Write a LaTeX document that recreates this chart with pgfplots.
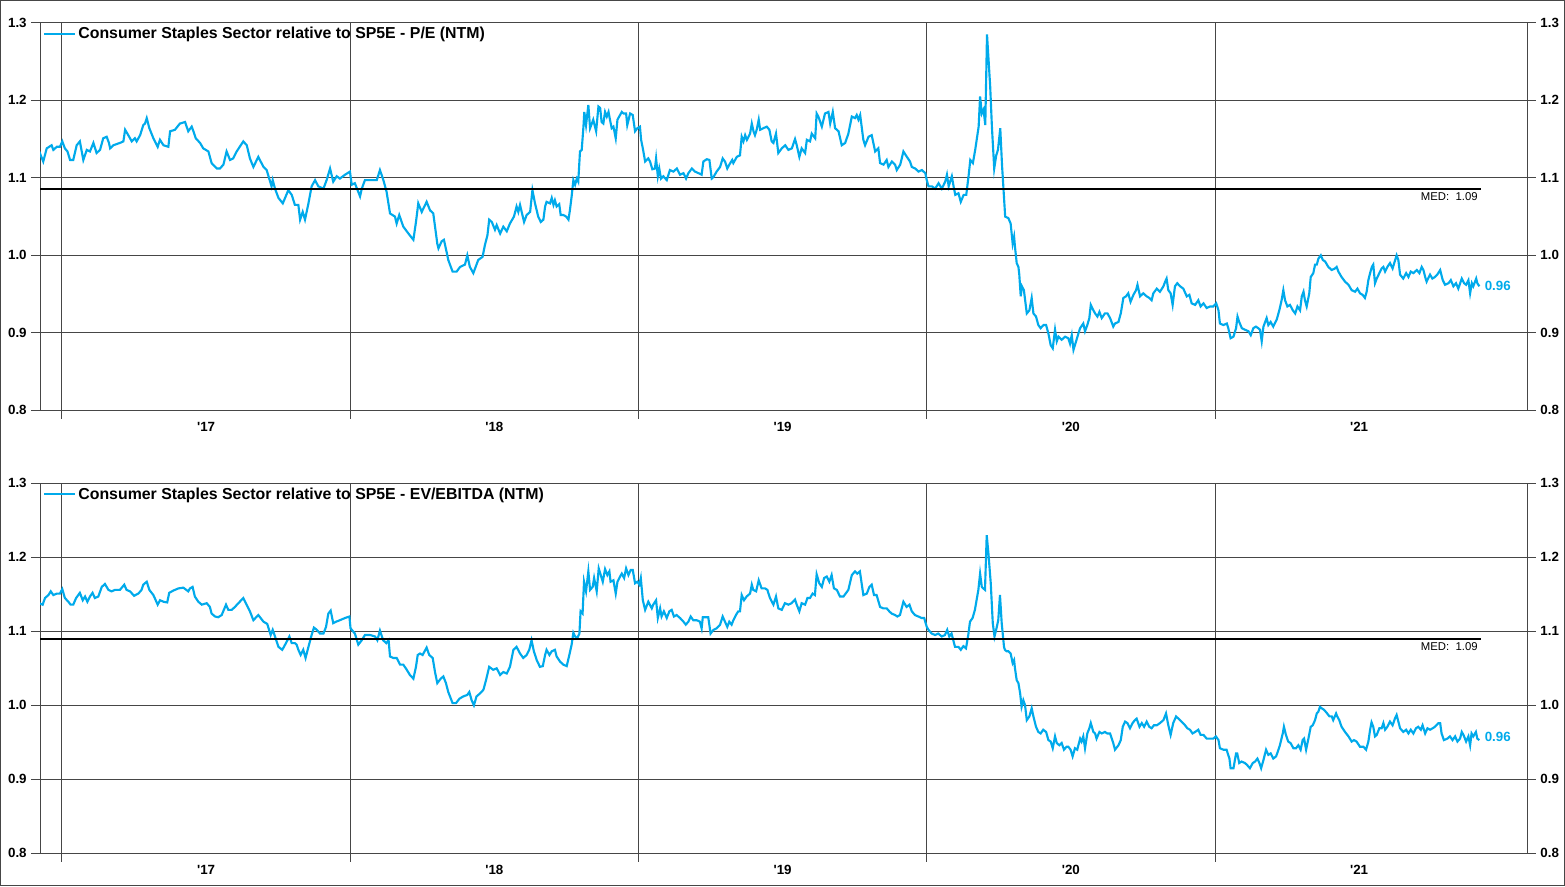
\documentclass[border=0pt]{standalone}
\usepackage{pgfplots}
\pgfplotsset{compat=1.18}
\usepackage{fontspec}
\setmainfont{Liberation Sans}
\definecolor{ser}{RGB}{0,170,235}
\definecolor{gridc}{RGB}{70,70,70}
\pgfplotsset{
  basepanel/.style={
    scale only axis, width=1115.25pt,
    xmin=2016.9237, xmax=2022.0824, ymin=0.8, ymax=1.3,
    axis line style={gridc, line width=0.75pt},
    tick style={gridc, line width=0.75pt},
    tick align=outside, major tick length=6.5pt,
    ytick={0.8,0.9,1.0,1.1,1.2,1.3},
    yticklabel style={/pgf/number format/fixed, /pgf/number format/fixed zerofill,
      /pgf/number format/precision=1, /pgf/number format/assume math mode=true},
    ticklabel style={font=\fontsize{10}{12}\selectfont\bfseries, text=black},
  },
  mainpanel/.style={basepanel,
    xtick={2017,2018,2019,2020,2021}, xticklabels={},
    extra x ticks={2017.5,2018.5,2019.5,2020.5,2021.5},
    extra x tick labels={\textquotesingle17,\textquotesingle18,\textquotesingle19,\textquotesingle20,\textquotesingle21},
    extra x tick style={grid=none, major tick length=0pt, tick style={draw=none}},
    xticklabel style={yshift=-5.5pt},
    xtick pos=left, ytick pos=left,
    grid=major, major grid style={gridc, line width=0.75pt},
    legend style={at={(0,1)}, anchor=north west, draw=none, fill=none,
      font=\fontsize{11.9}{13}\selectfont\bfseries, legend cell align=left,
      xshift=-1pt, yshift=1pt},
    legend image code/.code={\path (0pt,0pt) -- (23pt,0pt);\draw[ser, line width=1.6pt] (0pt,0pt) -- (18pt,0pt);},
  },
  rightpanel/.style={basepanel, hide x axis, axis y line*=right, yticklabel pos=right},
}
\begin{document}
\begin{tikzpicture}
\useasboundingbox (0,0) rectangle (1173.75pt,-664.5pt);
\draw[gridc, line width=1.1pt] (0.55pt,-0.55pt) rectangle (1173.2pt,-663.95pt);

% ---------------- top panel ----------------
\begin{axis}[mainpanel, height=290.625pt, at={(30pt,-17.1pt)}, anchor=north west]
\addplot[ser, line width=1.6pt] coordinates {
(2016.921,1.134) (2016.935,1.121) (2016.947,1.138) (2016.964,1.142) (2016.970,1.136) (2016.982,1.140) (2016.993,1.140) (2017.001,1.147) (2017.010,1.138) (2017.019,1.134) (2017.028,1.123) (2017.039,1.123) (2017.051,1.142) (2017.062,1.147) (2017.074,1.123) (2017.086,1.136) (2017.097,1.134) (2017.109,1.145) (2017.120,1.132) (2017.132,1.136) (2017.143,1.151) (2017.155,1.153) (2017.163,1.145) (2017.167,1.138) (2017.178,1.142) (2017.201,1.145) (2017.213,1.147) (2017.219,1.162) (2017.230,1.155) (2017.242,1.147) (2017.253,1.151) (2017.259,1.147) (2017.271,1.155) (2017.282,1.168) (2017.288,1.170) (2017.294,1.177) (2017.303,1.164) (2017.317,1.151) (2017.332,1.140) (2017.340,1.149) (2017.352,1.142) (2017.369,1.140) (2017.375,1.160) (2017.392,1.162) (2017.409,1.170) (2017.427,1.172) (2017.438,1.160) (2017.450,1.166) (2017.456,1.160) (2017.464,1.151) (2017.479,1.145) (2017.490,1.138) (2017.508,1.134) (2017.519,1.119) (2017.537,1.112) (2017.548,1.112) (2017.560,1.117) (2017.571,1.134) (2017.583,1.123) (2017.594,1.125) (2017.606,1.134) (2017.629,1.147) (2017.641,1.142) (2017.652,1.125) (2017.664,1.114) (2017.681,1.127) (2017.699,1.114) (2017.710,1.110) (2017.727,1.089) (2017.731,1.097) (2017.739,1.086) (2017.751,1.074) (2017.766,1.067) (2017.785,1.084) (2017.797,1.078) (2017.808,1.065) (2017.820,1.065) (2017.826,1.046) (2017.835,1.056) (2017.843,1.046) (2017.855,1.067) (2017.866,1.089) (2017.878,1.097) (2017.889,1.089) (2017.907,1.086) (2017.918,1.097) (2017.930,1.112) (2017.941,1.095) (2017.953,1.102) (2017.964,1.099) (2017.982,1.104) (2017.999,1.108) (2018.005,1.091) (2018.016,1.093) (2018.034,1.076) (2018.040,1.086) (2018.051,1.097) (2018.069,1.097) (2018.092,1.097) (2018.103,1.110) (2018.115,1.097) (2018.126,1.082) (2018.138,1.054) (2018.155,1.050) (2018.161,1.041) (2018.170,1.052) (2018.184,1.037) (2018.202,1.028) (2018.219,1.020) (2018.228,1.043) (2018.236,1.067) (2018.248,1.056) (2018.265,1.069) (2018.277,1.058) (2018.288,1.054) (2018.302,1.015) (2018.306,1.009) (2018.317,1.018) (2018.325,1.020) (2018.335,1.003) (2018.340,0.994) (2018.355,0.979) (2018.369,0.979) (2018.381,0.985) (2018.398,0.988) (2018.406,1.000) (2018.415,0.985) (2018.427,0.977) (2018.444,0.994) (2018.459,0.998) (2018.467,1.013) (2018.476,1.026) (2018.482,1.046) (2018.491,1.043) (2018.502,1.033) (2018.508,1.039) (2018.520,1.028) (2018.531,1.037) (2018.543,1.031) (2018.554,1.041) (2018.568,1.050) (2018.577,1.063) (2018.583,1.056)
(2018.589,1.065) (2018.603,1.043) (2018.612,1.052) (2018.624,1.056) (2018.632,1.084) (2018.641,1.067) (2018.652,1.050) (2018.661,1.043) (2018.670,1.046) (2018.676,1.063) (2018.681,1.069) (2018.693,1.067) (2018.699,1.074) (2018.705,1.065) (2018.710,1.071) (2018.716,1.063) (2018.725,1.066) (2018.730,1.052) (2018.739,1.052) (2018.749,1.050) (2018.757,1.046) (2018.762,1.058) (2018.768,1.076) (2018.774,1.097) (2018.780,1.091) (2018.786,1.099) (2018.791,1.095) (2018.797,1.134) (2018.803,1.136) (2018.809,1.166) (2018.812,1.185) (2018.818,1.168) (2018.826,1.194) (2018.832,1.164) (2018.838,1.170) (2018.843,1.175) (2018.853,1.160) (2018.861,1.192) (2018.867,1.190) (2018.872,1.172) (2018.878,1.170) (2018.884,1.185) (2018.890,1.179) (2018.896,1.185) (2018.901,1.175) (2018.907,1.164) (2018.913,1.166) (2018.921,1.151) (2018.927,1.175) (2018.936,1.181) (2018.942,1.185) (2018.948,1.183) (2018.957,1.183) (2018.961,1.168) (2018.971,1.183) (2018.980,1.181) (2018.988,1.160) (2018.996,1.164) (2019.005,1.166) (2019.009,1.149) (2019.015,1.138) (2019.023,1.121) (2019.034,1.125) (2019.040,1.121) (2019.048,1.111) (2019.057,1.112) (2019.061,1.125) (2019.067,1.102) (2019.072,1.112) (2019.078,1.099) (2019.086,1.102) (2019.098,1.097) (2019.109,1.110) (2019.121,1.108) (2019.133,1.112) (2019.144,1.104) (2019.156,1.106) (2019.165,1.099) (2019.173,1.106) (2019.185,1.112) (2019.196,1.108) (2019.208,1.106) (2019.219,1.104) (2019.225,1.121) (2019.237,1.124) (2019.246,1.123) (2019.254,1.099) (2019.260,1.101) (2019.271,1.108) (2019.283,1.114) (2019.292,1.125) (2019.300,1.121) (2019.308,1.112) (2019.315,1.117) (2019.325,1.123) (2019.329,1.119) (2019.341,1.127) (2019.352,1.129) (2019.358,1.153) (2019.364,1.147) (2019.370,1.155) (2019.376,1.149) (2019.387,1.157) (2019.393,1.170) (2019.399,1.160) (2019.404,1.155) (2019.410,1.162) (2019.417,1.175) (2019.422,1.162) (2019.433,1.164) (2019.445,1.166) (2019.454,1.162) (2019.462,1.147) (2019.468,1.145) (2019.477,1.157) (2019.485,1.132) (2019.497,1.138) (2019.509,1.142) (2019.520,1.136) (2019.532,1.138) (2019.543,1.150) (2019.549,1.142) (2019.558,1.127) (2019.566,1.138) (2019.578,1.132) (2019.584,1.149) (2019.595,1.147) (2019.601,1.157) (2019.613,1.151) (2019.618,1.183) (2019.624,1.179) (2019.636,1.166) (2019.647,1.183) (2019.659,1.185) (2019.665,1.170) (2019.674,1.185) (2019.682,1.164) (2019.694,1.160) (2019.705,1.142) (2019.717,1.145) (2019.728,1.157) (2019.740,1.179) (2019.751,1.177) (2019.757,1.181) (2019.763,1.175) (2019.769,1.181) (2019.780,1.149) (2019.786,1.142) (2019.798,1.153) (2019.809,1.155) (2019.821,1.134) (2019.832,1.138) (2019.838,1.119) (2019.850,1.117) (2019.861,1.123) (2019.867,1.114) (2019.879,1.121) (2019.890,1.117) (2019.896,1.110) (2019.908,1.117) (2019.919,1.134) (2019.931,1.127) (2019.942,1.121) (2019.948,1.114) (2019.960,1.112) (2019.971,1.108) (2019.983,1.110) (2019.995,1.106) (2020.000,1.097) (2020.006,1.089) (2020.018,1.089) (2020.029,1.086) (2020.041,1.093) (2020.052,1.086) (2020.064,1.095) (2020.070,1.104) (2020.076,1.089) (2020.087,1.102) (2020.093,1.089) (2020.099,1.078) (2020.110,1.080) (2020.118,1.069) (2020.128,1.078) (2020.137,1.078) (2020.145,1.102) (2020.151,1.123) (2020.160,1.119) (2020.168,1.136) (2020.180,1.166) (2020.185,1.205) (2020.191,1.183) (2020.197,1.188) (2020.203,1.168) (2020.209,1.285) (2020.220,1.218) (2020.226,1.166) (2020.234,1.112) (2020.241,1.129) (2020.247,1.136) (2020.255,1.164) (2020.261,1.117)
(2020.272,1.050) (2020.283,1.048) (2020.291,1.041) (2020.298,1.015) (2020.303,1.024) (2020.306,1.011) (2020.312,0.990) (2020.318,0.985) (2020.321,0.975) (2020.326,0.947) (2020.330,0.960) (2020.337,0.955) (2020.347,0.925) (2020.356,0.929) (2020.364,0.945) (2020.370,0.925) (2020.379,0.921) (2020.387,0.910) (2020.395,0.906) (2020.405,0.910) (2020.414,0.910) (2020.422,0.899) (2020.430,0.884) (2020.437,0.880) (2020.445,0.904) (2020.451,0.889) (2020.457,0.895) (2020.468,0.891) (2020.480,0.895) (2020.491,0.893) (2020.497,0.886) (2020.503,0.897) (2020.509,0.878) (2020.518,0.889) (2020.526,0.899) (2020.532,0.906) (2020.543,0.912) (2020.549,0.902) (2020.557,0.910) (2020.564,0.919) (2020.569,0.936) (2020.578,0.929) (2020.584,0.925) (2020.592,0.921) (2020.599,0.927) (2020.607,0.919) (2020.618,0.925) (2020.627,0.925) (2020.636,0.919) (2020.647,0.908) (2020.653,0.912) (2020.665,0.914) (2020.673,0.925) (2020.682,0.945) (2020.691,0.947) (2020.699,0.951) (2020.707,0.940) (2020.717,0.949) (2020.726,0.955) (2020.731,0.962) (2020.740,0.947) (2020.751,0.951) (2020.763,0.947) (2020.772,0.945) (2020.780,0.942) (2020.786,0.951) (2020.798,0.957) (2020.809,0.953) (2020.821,0.960) (2020.827,0.966) (2020.832,0.970) (2020.838,0.955) (2020.846,0.951) (2020.853,0.936) (2020.861,0.960) (2020.869,0.964) (2020.879,0.960) (2020.890,0.957) (2020.902,0.947) (2020.911,0.949) (2020.919,0.938) (2020.931,0.936) (2020.942,0.942) (2020.950,0.934) (2020.960,0.938) (2020.971,0.932) (2020.983,0.934) (2020.994,0.934) (2021.004,0.938) (2021.012,0.929) (2021.017,0.912) (2021.029,0.910) (2021.041,0.912) (2021.046,0.906) (2021.054,0.893) (2021.064,0.895) (2021.073,0.906) (2021.078,0.921) (2021.084,0.914) (2021.093,0.906) (2021.104,0.904) (2021.116,0.902) (2021.124,0.897) (2021.133,0.906) (2021.142,0.908) (2021.150,0.906) (2021.156,0.904) (2021.162,0.889) (2021.168,0.908) (2021.179,0.919) (2021.185,0.910) (2021.193,0.914) (2021.202,0.908) (2021.214,0.917) (2021.223,0.929) (2021.231,0.942) (2021.237,0.955) (2021.243,0.942) (2021.251,0.934) (2021.260,0.936) (2021.270,0.929) (2021.278,0.925) (2021.286,0.934) (2021.295,0.929) (2021.301,0.947) (2021.307,0.953) (2021.312,0.942) (2021.318,0.934) (2021.327,0.951) (2021.332,0.972) (2021.341,0.977) (2021.347,0.988) (2021.353,0.988) (2021.359,0.996) (2021.367,1.000) (2021.374,0.994) (2021.382,0.992) (2021.393,0.985) (2021.405,0.981) (2021.416,0.983) (2021.422,0.985) (2021.428,0.979) (2021.439,0.972) (2021.451,0.966) (2021.463,0.962) (2021.474,0.955) (2021.486,0.953) (2021.494,0.957) (2021.503,0.951) (2021.512,0.949) (2021.520,0.945) (2021.526,0.953) (2021.532,0.968) (2021.538,0.977) (2021.544,0.985) (2021.549,0.988) (2021.555,0.964) (2021.561,0.970) (2021.570,0.977) (2021.578,0.983) (2021.584,0.985) (2021.590,0.979) (2021.598,0.985) (2021.607,0.990) (2021.616,0.983) (2021.625,0.994) (2021.630,1.000) (2021.636,0.994) (2021.642,0.975) (2021.653,0.970) (2021.663,0.977) (2021.671,0.972) (2021.679,0.979) (2021.688,0.977) (2021.700,0.981) (2021.709,0.977) (2021.717,0.985) (2021.723,0.981) (2021.729,0.972) (2021.734,0.966) (2021.746,0.975) (2021.754,0.970) (2021.763,0.972) (2021.771,0.975) (2021.781,0.981) (2021.790,0.968) (2021.798,0.962) (2021.810,0.964) (2021.818,0.968) (2021.827,0.960) (2021.836,0.964) (2021.844,0.957) (2021.856,0.970) (2021.864,0.964) (2021.871,0.962) (2021.879,0.968) (2021.885,0.951) (2021.891,0.964) (2021.896,0.960) (2021.906,0.970) (2021.910,0.964) (2021.917,0.960)
};
\addlegendentry{Consumer Staples Sector relative to SP5E - P/E (NTM)}
\addplot[black, line width=1.5pt, forget plot] coordinates {(2016.9237,1.086) (2021.922,1.086)};
\node[anchor=north east, font=\fontsize{8.5}{10}\selectfont, inner sep=0pt] at (axis cs:2021.912,1.081) {MED:\ \ 1.09};
\node[anchor=west, font=\fontsize{10}{12}\selectfont\bfseries, text=ser, inner sep=0pt] at (axis cs:2021.935,0.96) {0.96};
\end{axis}
\begin{axis}[rightpanel, height=290.625pt, at={(30pt,-17.1pt)}, anchor=north west]
\end{axis}

% ---------------- bottom panel ----------------
\begin{axis}[mainpanel, height=277.5pt, at={(30pt,-362.475pt)}, anchor=north west]
\addplot[ser, line width=1.6pt] coordinates {
(2016.921,1.138) (2016.933,1.136) (2016.941,1.145) (2016.953,1.149) (2016.961,1.154) (2016.970,1.149) (2016.982,1.151) (2016.993,1.151) (2017.001,1.157) (2017.010,1.145) (2017.022,1.140) (2017.030,1.136) (2017.039,1.136) (2017.049,1.145) (2017.062,1.152) (2017.072,1.142) (2017.080,1.147) (2017.088,1.140) (2017.097,1.147) (2017.106,1.152) (2017.114,1.145) (2017.126,1.147) (2017.138,1.160) (2017.149,1.164) (2017.161,1.156) (2017.172,1.154) (2017.184,1.156) (2017.201,1.156) (2017.216,1.163) (2017.224,1.156) (2017.236,1.154) (2017.250,1.148) (2017.265,1.151) (2017.276,1.156) (2017.282,1.163) (2017.294,1.167) (2017.303,1.156) (2017.317,1.149) (2017.332,1.136) (2017.340,1.142) (2017.352,1.140) (2017.365,1.139) (2017.372,1.152) (2017.386,1.155) (2017.404,1.158) (2017.421,1.159) (2017.438,1.154) (2017.444,1.158) (2017.453,1.160) (2017.461,1.147) (2017.473,1.140) (2017.485,1.136) (2017.502,1.138) (2017.513,1.133) (2017.519,1.124) (2017.531,1.120) (2017.542,1.119) (2017.554,1.122) (2017.569,1.136) (2017.577,1.129) (2017.589,1.129) (2017.600,1.133) (2017.612,1.138) (2017.629,1.145) (2017.638,1.138) (2017.652,1.127) (2017.664,1.115) (2017.681,1.122) (2017.699,1.113) (2017.712,1.110) (2017.724,1.095) (2017.731,1.102) (2017.739,1.093) (2017.751,1.079) (2017.764,1.075) (2017.770,1.079) (2017.789,1.093) (2017.797,1.084) (2017.808,1.084) (2017.814,1.082) (2017.820,1.075) (2017.828,1.068) (2017.837,1.075) (2017.845,1.064) (2017.855,1.079) (2017.866,1.095) (2017.874,1.105) (2017.884,1.102) (2017.895,1.097) (2017.907,1.097) (2017.916,1.106) (2017.924,1.124) (2017.932,1.128) (2017.941,1.111) (2017.951,1.113) (2017.964,1.115) (2017.982,1.118) (2017.997,1.120) (2018.001,1.104) (2018.016,1.097) (2018.028,1.082) (2018.040,1.088) (2018.051,1.095) (2018.069,1.095) (2018.086,1.093) (2018.094,1.088) (2018.103,1.101) (2018.114,1.088) (2018.125,1.084) (2018.133,1.088) (2018.138,1.066) (2018.149,1.064) (2018.161,1.064) (2018.173,1.055) (2018.184,1.055) (2018.196,1.048) (2018.207,1.041) (2018.219,1.036) (2018.228,1.052) (2018.234,1.068) (2018.242,1.070) (2018.251,1.068) (2018.265,1.078) (2018.274,1.068) (2018.286,1.064) (2018.294,1.045) (2018.302,1.030) (2018.314,1.036) (2018.323,1.039) (2018.332,1.030) (2018.340,1.018) (2018.346,1.012) (2018.355,1.003) (2018.367,1.003) (2018.379,1.009) (2018.392,1.012) (2018.406,1.014) (2018.413,1.018) (2018.421,1.007) (2018.429,1.000) (2018.438,1.012) (2018.450,1.016) (2018.462,1.021) (2018.471,1.034) (2018.482,1.052) (2018.496,1.048) (2018.508,1.050) (2018.520,1.041) (2018.531,1.045) (2018.543,1.043) (2018.554,1.052) (2018.566,1.075) (2018.577,1.079) (2018.589,1.070)
(2018.600,1.064) (2018.612,1.068) (2018.621,1.075) (2018.629,1.088) (2018.637,1.073) (2018.647,1.061) (2018.658,1.052) (2018.668,1.053) (2018.676,1.068) (2018.681,1.075) (2018.691,1.068) (2018.699,1.073) (2018.710,1.075) (2018.716,1.066) (2018.728,1.059) (2018.739,1.055) (2018.751,1.053) (2018.760,1.068) (2018.768,1.082) (2018.774,1.098) (2018.780,1.093) (2018.788,1.091) (2018.795,1.097) (2018.799,1.127) (2018.806,1.124) (2018.811,1.167) (2018.818,1.154) (2018.826,1.181) (2018.832,1.156) (2018.841,1.160) (2018.846,1.172) (2018.855,1.154) (2018.862,1.185) (2018.869,1.176) (2018.876,1.167) (2018.884,1.184) (2018.892,1.176) (2018.899,1.181) (2018.903,1.167) (2018.913,1.169) (2018.921,1.151) (2018.927,1.167) (2018.936,1.174) (2018.942,1.178) (2018.950,1.172) (2018.957,1.185) (2018.965,1.176) (2018.973,1.183) (2018.980,1.183) (2018.988,1.165) (2018.996,1.167) (2019.003,1.163) (2019.008,1.172) (2019.015,1.142) (2019.023,1.129) (2019.034,1.140) (2019.046,1.131) (2019.051,1.136) (2019.061,1.142) (2019.067,1.118) (2019.075,1.131) (2019.080,1.120) (2019.088,1.127) (2019.098,1.118) (2019.107,1.127) (2019.115,1.129) (2019.123,1.120) (2019.132,1.122) (2019.144,1.118) (2019.156,1.113) (2019.164,1.109) (2019.173,1.113) (2019.181,1.120) (2019.190,1.115) (2019.202,1.115) (2019.213,1.113) (2019.219,1.104) (2019.223,1.119) (2019.242,1.119) (2019.250,1.097) (2019.260,1.102) (2019.271,1.104) (2019.283,1.109) (2019.292,1.120) (2019.300,1.113) (2019.308,1.106) (2019.315,1.113) (2019.323,1.109) (2019.329,1.115) (2019.338,1.122) (2019.346,1.127) (2019.352,1.127) (2019.358,1.149) (2019.366,1.142) (2019.375,1.147) (2019.387,1.151) (2019.393,1.163) (2019.398,1.156) (2019.408,1.154) (2019.417,1.169) (2019.427,1.158) (2019.439,1.158) (2019.447,1.156) (2019.456,1.145) (2019.468,1.136) (2019.477,1.147) (2019.485,1.131) (2019.497,1.129) (2019.508,1.138) (2019.520,1.136) (2019.531,1.138) (2019.543,1.143) (2019.549,1.136) (2019.558,1.127) (2019.566,1.138) (2019.578,1.136) (2019.586,1.145) (2019.595,1.145) (2019.604,1.151) (2019.612,1.149) (2019.618,1.177) (2019.627,1.165) (2019.636,1.160) (2019.644,1.172) (2019.653,1.174) (2019.662,1.167) (2019.670,1.176) (2019.678,1.158) (2019.688,1.156) (2019.699,1.147) (2019.711,1.147) (2019.728,1.156) (2019.740,1.176) (2019.751,1.181) (2019.759,1.178) (2019.768,1.181) (2019.780,1.149) (2019.792,1.151) (2019.801,1.160) (2019.809,1.163) (2019.817,1.149) (2019.826,1.149) (2019.838,1.133) (2019.849,1.131) (2019.861,1.131) (2019.870,1.127) (2019.878,1.124) (2019.890,1.122) (2019.898,1.120) (2019.907,1.122) (2019.919,1.140) (2019.930,1.133) (2019.940,1.136) (2019.948,1.127) (2019.959,1.122) (2019.971,1.120) (2019.982,1.118) (2019.991,1.118) (2020.000,1.106) (2020.006,1.102) (2020.017,1.097) (2020.029,1.095) (2020.040,1.097) (2020.052,1.093) (2020.063,1.095) (2020.071,1.102) (2020.078,1.093) (2020.086,1.097) (2020.092,1.088) (2020.098,1.079) (2020.110,1.079) (2020.118,1.075) (2020.127,1.080) (2020.136,1.077) (2020.144,1.095) (2020.150,1.113) (2020.159,1.118) (2020.167,1.129) (2020.179,1.156) (2020.185,1.178) (2020.191,1.160) (2020.196,1.158) (2020.202,1.156) (2020.208,1.230) (2020.214,1.205) (2020.222,1.165) (2020.229,1.111) (2020.235,1.093) (2020.243,1.106) (2020.248,1.115) (2020.254,1.149) (2020.260,1.111) (2020.268,1.079)
(2020.271,1.075) (2020.277,1.073) (2020.283,1.073) (2020.291,1.070) (2020.298,1.057) (2020.303,1.061) (2020.306,1.050) (2020.312,1.034) (2020.318,1.030) (2020.324,1.016) (2020.329,0.998) (2020.335,1.007) (2020.341,1.000) (2020.347,0.980) (2020.356,0.985) (2020.364,0.996) (2020.370,0.985) (2020.379,0.971) (2020.387,0.964) (2020.395,0.962) (2020.404,0.967) (2020.414,0.964) (2020.422,0.953) (2020.430,0.951) (2020.437,0.942) (2020.445,0.958) (2020.451,0.949) (2020.460,0.946) (2020.468,0.949) (2020.476,0.940) (2020.485,0.944) (2020.491,0.944) (2020.499,0.940) (2020.506,0.931) (2020.514,0.942) (2020.522,0.940) (2020.532,0.955) (2020.537,0.951) (2020.543,0.958) (2020.549,0.942) (2020.557,0.962) (2020.564,0.969) (2020.569,0.976) (2020.578,0.964) (2020.584,0.962) (2020.589,0.955) (2020.599,0.964) (2020.607,0.962) (2020.618,0.964) (2020.626,0.962) (2020.636,0.962) (2020.647,0.949) (2020.653,0.940) (2020.665,0.946) (2020.673,0.953) (2020.680,0.971) (2020.688,0.978) (2020.696,0.976) (2020.705,0.969) (2020.714,0.976) (2020.722,0.980) (2020.728,0.982) (2020.738,0.971) (2020.746,0.976) (2020.754,0.971) (2020.763,0.978) (2020.772,0.971) (2020.780,0.969) (2020.788,0.973) (2020.798,0.973) (2020.809,0.976) (2020.821,0.980) (2020.830,0.989) (2020.838,0.973) (2020.846,0.960) (2020.855,0.976) (2020.865,0.985) (2020.873,0.982) (2020.884,0.978) (2020.896,0.973) (2020.904,0.969) (2020.913,0.967) (2020.922,0.962) (2020.931,0.964) (2020.942,0.967) (2020.950,0.960) (2020.960,0.960) (2020.971,0.955) (2020.983,0.955) (2020.994,0.955) (2021.003,0.958) (2021.012,0.953) (2021.017,0.942) (2021.029,0.940) (2021.040,0.940) (2021.050,0.928) (2021.054,0.915) (2021.064,0.915) (2021.073,0.935) (2021.077,0.935) (2021.084,0.922) (2021.092,0.924) (2021.104,0.922) (2021.112,0.919) (2021.121,0.915) (2021.131,0.922) (2021.139,0.924) (2021.147,0.928) (2021.154,0.922) (2021.160,0.915) (2021.168,0.926) (2021.177,0.940) (2021.185,0.933) (2021.193,0.935) (2021.202,0.928) (2021.212,0.931) (2021.220,0.940) (2021.225,0.946) (2021.235,0.962) (2021.239,0.971) (2021.246,0.960) (2021.254,0.951) (2021.262,0.949) (2021.272,0.942) (2021.281,0.942) (2021.289,0.946) (2021.297,0.940) (2021.304,0.953) (2021.309,0.955) (2021.316,0.940) (2021.324,0.955) (2021.332,0.971) (2021.339,0.973) (2021.347,0.980) (2021.353,0.989) (2021.358,0.991) (2021.364,0.998) (2021.370,0.996) (2021.378,0.994) (2021.387,0.990) (2021.397,0.985) (2021.405,0.985) (2021.410,0.980) (2021.420,0.989) (2021.424,0.985) (2021.431,0.980) (2021.439,0.971) (2021.451,0.964) (2021.463,0.958) (2021.474,0.951) (2021.482,0.953) (2021.491,0.951) (2021.503,0.944) (2021.515,0.944) (2021.524,0.940) (2021.532,0.951) (2021.538,0.967) (2021.543,0.977) (2021.549,0.971) (2021.555,0.958) (2021.561,0.960) (2021.570,0.969) (2021.578,0.969) (2021.584,0.976) (2021.590,0.967) (2021.598,0.971) (2021.607,0.978) (2021.616,0.973) (2021.624,0.982) (2021.630,0.987) (2021.636,0.978) (2021.642,0.969) (2021.653,0.964) (2021.663,0.967) (2021.671,0.962) (2021.679,0.967) (2021.688,0.962) (2021.697,0.969) (2021.705,0.971) (2021.714,0.967) (2021.720,0.973) (2021.729,0.962) (2021.737,0.969) (2021.746,0.967) (2021.755,0.969) (2021.763,0.971) (2021.775,0.976) (2021.781,0.976) (2021.786,0.962) (2021.794,0.953) (2021.806,0.955) (2021.815,0.958) (2021.824,0.953) (2021.833,0.958) (2021.841,0.951) (2021.850,0.955) (2021.856,0.964) (2021.862,0.960) (2021.871,0.951) (2021.879,0.958) (2021.885,0.946) (2021.890,0.962) (2021.896,0.958) (2021.905,0.964) (2021.910,0.955) (2021.917,0.953)
};
\addlegendentry{Consumer Staples Sector relative to SP5E - EV/EBITDA (NTM)}
\addplot[black, line width=1.5pt, forget plot] coordinates {(2016.9237,1.090) (2021.922,1.090)};
\node[anchor=north east, font=\fontsize{8.5}{10}\selectfont, inner sep=0pt] at (axis cs:2021.912,1.085) {MED:\ \ 1.09};
\node[anchor=west, font=\fontsize{10}{12}\selectfont\bfseries, text=ser, inner sep=0pt] at (axis cs:2021.935,0.957) {0.96};
\end{axis}
\begin{axis}[rightpanel, height=277.5pt, at={(30pt,-362.475pt)}, anchor=north west]
\end{axis}
\end{tikzpicture}
\end{document}
